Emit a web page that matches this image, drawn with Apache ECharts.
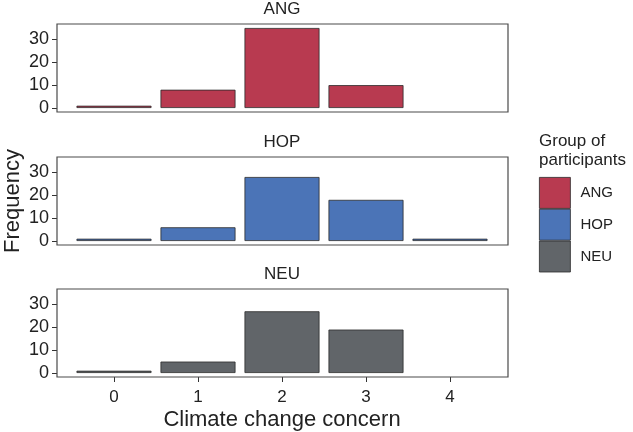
<!DOCTYPE html>
<html>
<head>
<meta charset="utf-8">
<script src="https://cdn.jsdelivr.net/npm/echarts@6/dist/echarts.min.js"></script>
<style>
  html, body { margin: 0; padding: 0; background: #fff; }
  #main { width: 633px; height: 432px; }
</style>
</head>
<body>
<div id="main"></div>
<script>
// data
var categories = ['0', '1', '2', '3', '4'];
var groups = ['ANG', 'HOP', 'NEU'];
var angValues = [1, 8, 35, 10, 0];
var hopValues = [1, 6, 28, 18, 1];
var neuValues = [1, 5, 27, 19, 0];
var yTicks = [0, 10, 20, 30];

var colors = ['#b83a50', '#4b74b7', '#616569'];
var font = 'Liberation Sans, Arial, sans-serif';
var chart = echarts.init(document.getElementById('main'));

var panelTops = [24, 157, 289];
var valuesByGroup = [angValues, hopValues, neuValues];

var grids = [], xAxes = [], yAxes = [], series = [], titles = [];
// inner grids carry the axes, frame grids only draw the panel border
groups.forEach(function (g, i) {
    grids.push({ left: 72, width: 420, top: panelTops[i], height: 88, containLabel: false, outerBoundsMode: 'none' });
    xAxes.push({
        type: 'category', gridIndex: i, data: categories, boundaryGap: true,
        axisLine: { show: false, onZero: false },
        splitLine: { show: false },
        axisTick: { show: i === 2, length: 5, alignWithLabel: true, lineStyle: { color: '#333' } },
        axisLabel: { show: i === 2, fontSize: 17, color: '#222', fontFamily: font, margin: 12 },
        name: i === 2 ? 'Climate change concern' : '',
        nameLocation: 'middle', nameGap: 32, nameMoveOverlap: false,
        nameTextStyle: { fontSize: 22, color: '#222', fontFamily: font }
    });
    yAxes.push({
        type: 'value', gridIndex: i, min: -1.75, max: 36.75, offset: 15,
        axisLine: { show: false, onZero: false },
        splitLine: { show: false },
        axisTick: { show: true, length: 5, lineStyle: { color: '#333' }, customValues: yTicks },
        axisLabel: { customValues: yTicks, fontSize: 18, color: '#222', fontFamily: font, margin: 8 },
        name: i === 1 ? 'Frequency' : '',
        nameLocation: 'middle', nameGap: 33, nameMoveOverlap: false,
        nameTextStyle: { fontSize: 22, color: '#222', fontFamily: font }
    });
    series.push({
        name: g, type: 'bar', xAxisIndex: i, yAxisIndex: i,
        barWidth: 75,
        itemStyle: { color: colors[i], borderColor: '#2b2b2b', borderWidth: 0.8 },
        // categories with no observations are not drawn
        data: valuesByGroup[i].map(function (v) { return v > 0 ? v : '-'; }),
        animation: false
    });
    titles.push({
        text: g, left: 282, top: panelTops[i] - 23, textAlign: 'center', padding: 0,
        textStyle: { fontSize: 17, fontWeight: 'normal', color: '#222', fontFamily: font }
    });
});
groups.forEach(function (g, i) {
    grids.push({
        left: 57, width: 451, top: panelTops[i], height: 88, outerBoundsMode: 'none',
        show: true, borderColor: '#4a4a4a', borderWidth: 1.2, backgroundColor: 'transparent', z: 5
    });
});

titles.push({
    text: 'Group of\nparticipants', left: 539, top: 132, padding: 0,
    textStyle: { fontSize: 17, fontWeight: 'normal', color: '#222', fontFamily: font, lineHeight: 19 }
});

chart.setOption({
    animation: false,
    title: titles,
    grid: grids,
    xAxis: xAxes,
    yAxis: yAxes,
    legend: {
        data: groups, orient: 'vertical', left: 539, top: 177, padding: 0,
        itemWidth: 31, itemHeight: 31, itemGap: 0, icon: 'rect',
        selectedMode: false,
        itemStyle: { borderWidth: 0.8, borderColor: '#2b2b2b' },
        textStyle: { fontSize: 15, color: '#222', fontFamily: font, padding: [0, 0, 0, 5] }
    },
    series: series
});
</script>
</body>
</html>
